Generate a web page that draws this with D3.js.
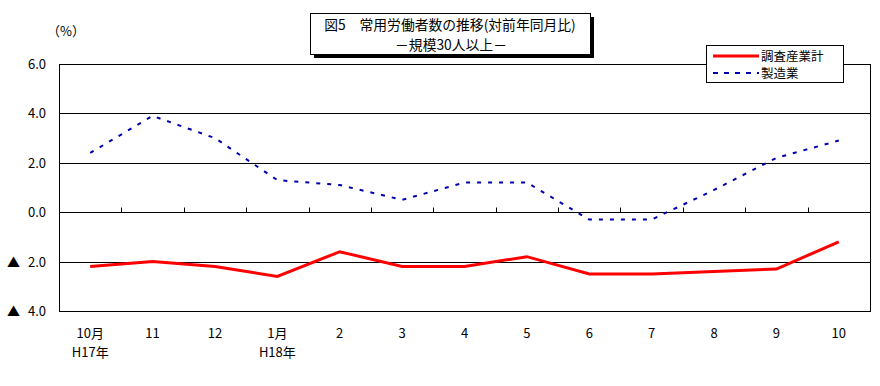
<!DOCTYPE html>
<html>
<head>
<meta charset="utf-8">
<script src="https://cdn.jsdelivr.net/npm/d3@7"></script>
<style>
body { margin: 0; background: #fff; }
text { font-family: "Noto Sans CJK JP", "DejaVu Sans", sans-serif; fill: #000; }
</style>
</head>
<body>
<script>

// months (x axis), two label lines
var months = ["10月", "11", "12", "1月", "2", "3", "4", "5", "6", "7", "8", "9", "10"];
var years = ["H17年", "", "", "H18年", "", "", "", "", "", "", "", "", ""];

// 調査産業計 / 製造業 (%)
var totalIndustry = [-2.2, -2.0, -2.2, -2.6, -1.6, -2.2, -2.2, -1.8, -2.5, -2.5, -2.4, -2.3, -1.2];
var manufacturing = [2.4, 3.9, 3.0, 1.3, 1.1, 0.5, 1.2, 1.2, -0.3, -0.3, 0.9, 2.2, 2.9];

var yTicks = [6, 4, 2, 0, -2, -4];

var width = 880, height = 386;
var plotLeft = 59, plotRight = 870, plotTop = 64, plotBottom = 311;

var svg = d3.select("body").append("svg")
	.attr("width", width)
	.attr("height", height);

var x = d3.scaleBand()
	.domain(d3.range(months.length))
	.range([plotLeft, plotRight]);

var y = d3.scaleLinear()
	.domain([-4, 6])
	.range([plotBottom, plotTop]);

// gridlines
svg.selectAll("line.grid")
	.data(yTicks)
	.enter()
	.append("line")
	.attr("class", "grid")
	.attr("x1", plotLeft).attr("x2", plotRight)
	.attr("y1", function(d){ return Math.round(y(d)) + 0.5; })
	.attr("y2", function(d){ return Math.round(y(d)) + 0.5; })
	.attr("stroke", "#000");

// plot border
svg.append("rect")
	.attr("x", plotLeft + 0.5).attr("y", Math.round(y(6)) + 0.5)
	.attr("width", plotRight - plotLeft).attr("height", Math.round(y(-4)) - Math.round(y(6)))
	.attr("fill", "none")
	.attr("stroke", "#000");

// ticks on zero line, between categories
var zeroY = Math.round(y(0)) + 0.5;
svg.selectAll("line.tick")
	.data(d3.range(1, months.length))
	.enter()
	.append("line")
	.attr("class", "tick")
	.attr("x1", function(i){ return Math.round(x(i)) + 0.5; })
	.attr("x2", function(i){ return Math.round(x(i)) + 0.5; })
	.attr("y1", zeroY - 5).attr("y2", zeroY)
	.attr("stroke", "#000");

// y labels
svg.selectAll("text.ylab")
	.data(yTicks)
	.enter()
	.append("text")
	.attr("class", "ylab")
	.attr("x", 46)
	.attr("y", function(d){ return y(d) + 5; })
	.attr("text-anchor", "end")
	.attr("font-size", 13)
	.text(function(d){ return Math.abs(d).toFixed(1); });

svg.selectAll("text.tri")
	.data(yTicks.filter(function(d){ return d < 0; }))
	.enter()
	.append("text")
	.attr("class", "tri")
	.attr("x", 7)
	.attr("y", function(d){ return y(d) + 5; })
	.attr("font-size", 13)
	.text("▲");

svg.append("text")
	.attr("x", 66).attr("y", 36)
	.attr("text-anchor", "middle")
	.attr("font-size", 13)
	.text("（%）");

// x labels
svg.selectAll("text.xlab")
	.data(months)
	.enter()
	.append("text")
	.attr("class", "xlab")
	.attr("x", function(d, i){ return x(i) + x.bandwidth() / 2; })
	.attr("y", 338)
	.attr("text-anchor", "middle")
	.attr("font-size", 13)
	.text(function(d){ return d; });

svg.selectAll("text.xlab2")
	.data(years)
	.enter()
	.append("text")
	.attr("class", "xlab2")
	.attr("x", function(d, i){ return x(i) + x.bandwidth() / 2; })
	.attr("y", 357)
	.attr("text-anchor", "middle")
	.attr("font-size", 13)
	.text(function(d){ return d; });

// lines
var line = d3.line()
	.x(function(d, i){ return x(i) + x.bandwidth() / 2; })
	.y(function(d){ return y(d); });

svg.append("path")
	.datum(manufacturing)
	.attr("d", line)
	.attr("fill", "none")
	.attr("stroke", "#0000b0")
	.attr("stroke-width", 2)
	.attr("stroke-dasharray", "4,7");

svg.append("path")
	.datum(totalIndustry)
	.attr("d", line)
	.attr("fill", "none")
	.attr("stroke", "#ff0000")
	.attr("stroke-width", 3);

// legend
var lg = svg.append("g");
lg.append("rect")
	.attr("x", 706.5).attr("y", 45.5)
	.attr("width", 137).attr("height", 37)
	.attr("fill", "#fff").attr("stroke", "#000");
lg.append("line")
	.attr("x1", 713).attr("x2", 759).attr("y1", 56).attr("y2", 56)
	.attr("stroke", "#ff0000").attr("stroke-width", 3);
lg.append("line")
	.attr("x1", 713).attr("x2", 759).attr("y1", 73).attr("y2", 73)
	.attr("stroke", "#0000b0").attr("stroke-width", 2)
	.attr("stroke-dasharray", "5,6");
lg.append("text").attr("x", 761).attr("y", 60.5).attr("font-size", 12.5).text("調査産業計");
lg.append("text").attr("x", 761).attr("y", 78).attr("font-size", 12.5).text("製造業");

// title box with shadow
svg.append("rect")
	.attr("x", 314).attr("y", 17)
	.attr("width", 280).attr("height", 41)
	.attr("fill", "#000");
svg.append("rect")
	.attr("x", 310.5).attr("y", 13.5)
	.attr("width", 280).attr("height", 41)
	.attr("fill", "#fff").attr("stroke", "#000");
svg.append("text")
	.attr("x", 450).attr("y", 30)
	.attr("text-anchor", "middle")
	.attr("font-size", 13.8)
	.text("図5　常用労働者数の推移(対前年同月比)");
svg.append("text")
	.attr("x", 451).attr("y", 50)
	.attr("text-anchor", "middle")
	.attr("font-size", 13.8)
	.text("－規模30人以上－");

</script>
</body>
</html>
